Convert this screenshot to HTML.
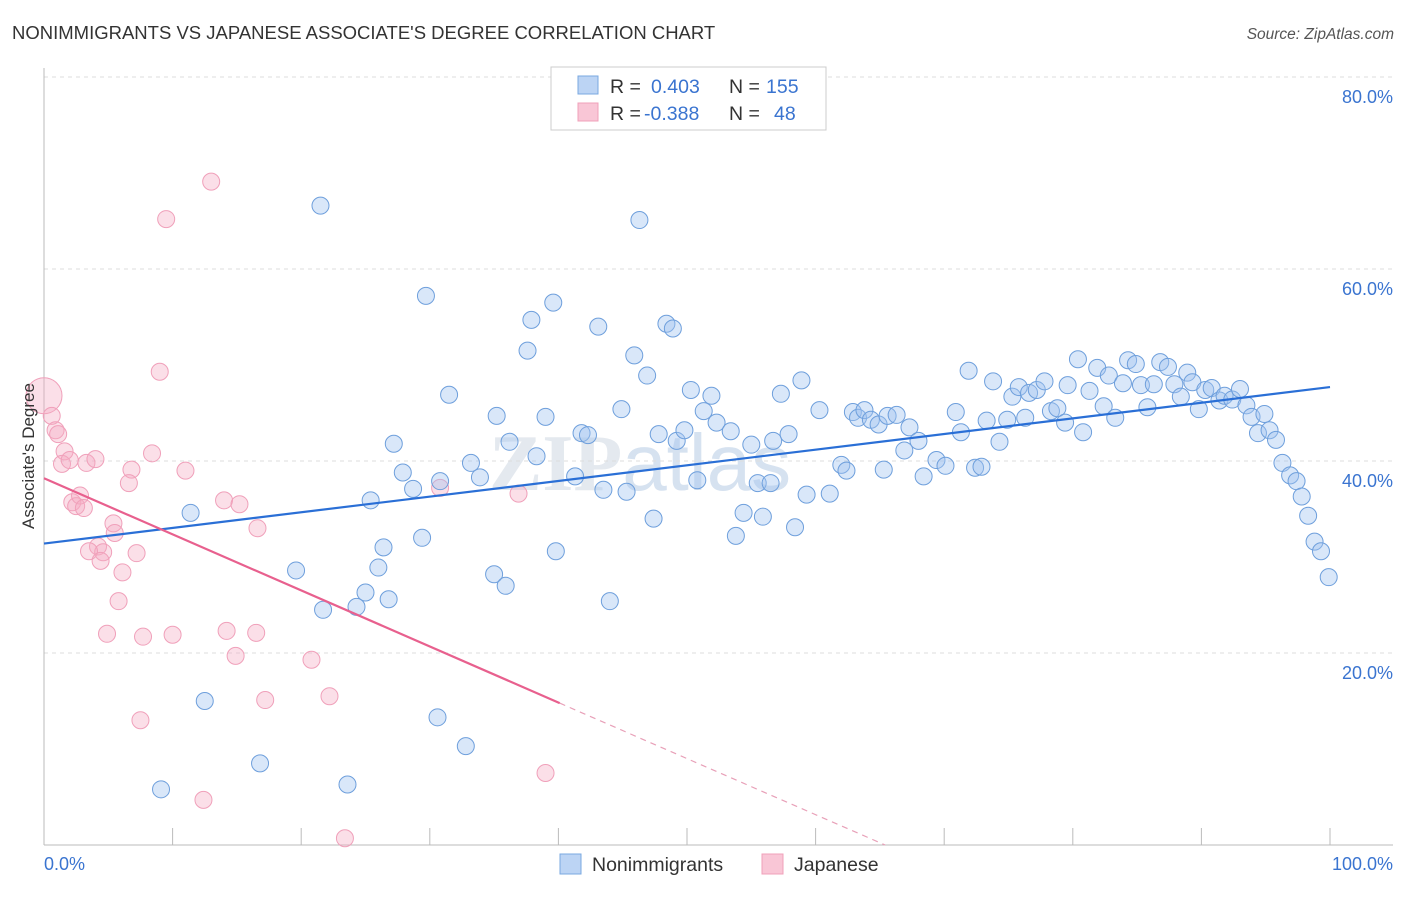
<!DOCTYPE html>
<html><head><meta charset="utf-8"><style>
body{margin:0;background:#fff;font-family:"Liberation Sans",sans-serif}
</style></head><body>
<svg id="chart" width="1406" height="892" xmlns="http://www.w3.org/2000/svg">
<text x="12" y="39" font-size="18.5" fill="#333">NONIMMIGRANTS VS JAPANESE ASSOCIATE'S DEGREE CORRELATION CHART</text>
<text x="1394" y="39" font-size="15.5" fill="#555" font-style="italic" text-anchor="end">Source: ZipAtlas.com</text>
<text x="640" y="490" font-size="80" fill="#e4e9ef" font-family="Liberation Serif" font-weight="bold" text-anchor="middle">ZIP<tspan font-family="Liberation Sans" font-weight="normal" fill="#d6e2f0">atlas</tspan></text>
<g id="grid"></g>
<g id="axes"></g>
<g id="marks"></g>
<text transform="translate(34,456) rotate(-90)" font-size="17" fill="#333" text-anchor="middle">Associate's Degree</text>
<g>
<rect x="551" y="67" width="275" height="63" fill="#fff" stroke="#ccc"/>
<rect x="578" y="76" width="20" height="18" fill="#bcd4f4" stroke="#7aa8e0"/>
<rect x="578" y="103" width="20" height="18" fill="#f9c6d6" stroke="#f0a0ba"/>
<text x="610" y="93" font-size="19.5" fill="#333">R = <tspan fill="#3a74d0" x="651">0.403</tspan><tspan x="729" fill="#333">N = </tspan><tspan fill="#3a74d0" x="766">155</tspan></text>
<text x="610" y="120" font-size="19.5" fill="#333">R = <tspan fill="#3a74d0" x="644">-0.388</tspan><tspan x="729" fill="#333">N = </tspan><tspan fill="#3a74d0" x="774">48</tspan></text>
</g>
<g>
<rect x="560" y="854" width="21" height="20" fill="#bcd4f4" stroke="#7aa8e0"/>
<text x="592" y="871" font-size="19.5" fill="#333">Nonimmigrants</text>
<rect x="762" y="854" width="21" height="20" fill="#f9c6d6" stroke="#f0a0ba"/>
<text x="794" y="871" font-size="19.5" fill="#333">Japanese</text>
</g>
</svg>
<script>
const blueX=[21.5,46.3,29.7,39.6,37.9,43.1,48.4,48.9,37.6,45.9,46.9,31.5,50.3,51.9,57.3,58.9,35.2,39.0,44.9,51.3,52.3,53.4,55.0,56.7,57.9,60.3,27.2,36.2,38.3,41.8,42.3,47.8,49.2,49.8,27.9,28.7,30.8,33.2,33.9,25.4,41.3,43.5,45.3,50.8,55.5,56.5,59.3,61.1,62.0,62.4,54.4,55.9,53.8,58.4,47.4,11.4,26.4,29.4,39.8,19.6,26.0,35.0,35.9,25.0,26.8,44.0,21.7,24.3,12.5,30.6,32.8,16.8,9.1,23.6,62.9,63.3,63.8,64.3,64.9,65.6,66.3,67.3,68.0,66.9,65.3,68.4,69.4,70.1,72.4,72.9,74.3,73.3,74.9,76.3,70.9,71.3,71.9,73.8,75.3,75.8,76.6,77.2,77.8,78.3,78.8,79.4,80.8,80.4,79.6,81.3,81.9,82.4,82.8,83.3,83.9,84.3,84.9,85.3,85.8,86.3,86.8,87.4,87.9,88.4,88.9,89.3,89.8,90.3,90.8,91.4,91.8,92.4,93.0,93.5,93.9,94.4,94.9,95.3,95.8,96.3,96.9,97.4,97.8,98.3,98.8,99.3,99.9];
const blueY=[66.6,65.1,57.2,56.5,54.7,54.0,54.3,53.8,51.5,51.0,48.9,46.9,47.4,46.8,47.0,48.4,44.7,44.6,45.4,45.2,44.0,43.1,41.7,42.1,42.8,45.3,41.8,42.0,40.5,42.9,42.7,42.8,42.1,43.2,38.8,37.1,37.9,39.8,38.3,35.9,38.4,37.0,36.8,38.0,37.7,37.7,36.5,36.6,39.6,39.0,34.6,34.2,32.2,33.1,34.0,34.6,31.0,32.0,30.6,28.6,28.9,28.2,27.0,26.3,25.6,25.4,24.5,24.8,15.0,13.3,10.3,8.5,5.8,6.3,45.1,44.5,45.3,44.3,43.8,44.7,44.8,43.5,42.1,41.1,39.1,38.4,40.1,39.5,39.3,39.4,42.0,44.2,44.3,44.5,45.1,43.0,49.4,48.3,46.7,47.7,47.1,47.4,48.3,45.2,45.5,44.0,43.0,50.6,47.9,47.3,49.7,45.7,48.9,44.5,48.1,50.5,50.1,47.9,45.6,48.0,50.3,49.8,48.0,46.7,49.2,48.2,45.4,47.4,47.6,46.3,46.8,46.4,47.5,45.8,44.6,42.9,44.9,43.2,42.2,39.8,38.5,37.9,36.3,34.3,31.6,30.6,27.9];
const pinkX=[0,0.6,0.9,1.1,1.6,1.4,2.0,3.3,4.0,2.2,2.5,2.8,3.1,5.4,5.5,4.2,4.6,3.5,4.4,7.2,6.1,5.8,4.9,7.7,10.0,14.2,16.5,14.9,20.8,6.8,6.6,8.4,11.0,14.0,15.2,16.6,9.0,9.5,13.0,7.5,17.2,22.2,12.4,23.4,39.0,30.8,36.9];
const pinkY=[46.8,44.7,43.2,42.8,41.0,39.7,40.1,39.8,40.2,35.7,35.3,36.4,35.1,33.5,32.5,31.1,30.5,30.6,29.6,30.4,28.4,25.4,22.0,21.7,21.9,22.3,22.1,19.7,19.3,39.1,37.7,40.8,39.0,35.9,35.5,33.0,49.3,65.2,69.1,13.0,15.1,15.5,4.7,0.7,7.5,37.2,36.6];
const blueTrend=[31.4,47.7];      // y at x=0, x=100
const pinkTrend=[38.2,-0.584];    // intercept, slope
const pinkSolidEnd=40.1;
const yTicks=[20,40,60,80];
const xTickVals=[0,10,20,30,40,50,60,70,80,90,100];
const X0=44,X1=1330,Y0=845,Y80=77;
const sx=v=>X0+(X1-X0)*v/100;
const sy=v=>Y0-(Y0-Y80)*v/80;
const NS="http://www.w3.org/2000/svg";
function mk(tag,attrs,parent){const e=document.createElementNS(NS,tag);for(const k in attrs)e.setAttribute(k,attrs[k]);document.getElementById(parent).appendChild(e);return e;}
yTicks.forEach(v=>{
  const l=mk('line',{x1:X0,x2:1393,y1:sy(v),y2:sy(v),stroke:'#ddd','stroke-dasharray':'4,4'},'grid');
  
  
  const t=mk('text',{x:1393,y:sy(v)+26,'font-size':18,fill:'#3a74d0','text-anchor':'end'},'grid');
  t.textContent=v.toFixed(1)+'%';
  
  
});
const ax=mk('line',{x1:X0,x2:1393,y1:Y0,y2:Y0,stroke:'#bbb'},'axes');


const ay=mk('line',{x1:X0,x2:X0,y1:68,y2:Y0,stroke:'#bbb'},'axes');


xTickVals.forEach(v=>{
  const t=mk('line',{x1:sx(v),x2:sx(v),y1:828,y2:Y0,stroke:'#bbb'},'axes');
  
  
});
const xl0=mk('text',{x:44,y:870,'font-size':18,fill:'#3a74d0'},'axes');xl0.textContent='0.0%';


const xl1=mk('text',{x:1393,y:870,'font-size':18,fill:'#3a74d0','text-anchor':'end'},'axes');xl1.textContent='100.0%';


pinkX.forEach((x,i)=>{
  const c=mk('circle',{cx:sx(x),cy:sy(pinkY[i]),r:i===0?18:8.5,fill:'rgba(245,170,195,0.38)',stroke:'#f0a0ba','stroke-width':1},'marks');
  
  
});
blueX.forEach((x,i)=>{
  const c=mk('circle',{cx:sx(x),cy:sy(blueY[i]),r:8.5,fill:'rgba(160,195,240,0.4)',stroke:'#6e9fdc','stroke-width':1},'marks');
  
  
});
const bl=mk('line',{x1:sx(0),y1:sy(blueTrend[0]),x2:sx(100),y2:sy(blueTrend[1]),stroke:'#2a6fd6','stroke-width':2.2},'marks');


const py=x=>pinkTrend[0]+pinkTrend[1]*x;
const pl=mk('line',{x1:sx(0),y1:sy(py(0)),x2:sx(pinkSolidEnd),y2:sy(py(pinkSolidEnd)),stroke:'#e8608e','stroke-width':2.2},'marks');


const xz=-pinkTrend[0]/pinkTrend[1];
const pd=mk('line',{x1:sx(pinkSolidEnd),y1:sy(py(pinkSolidEnd)),x2:sx(xz),y2:sy(0),stroke:'#e8a0b8','stroke-width':1.2,'stroke-dasharray':'6,5'},'marks');


</script>
</body></html>
